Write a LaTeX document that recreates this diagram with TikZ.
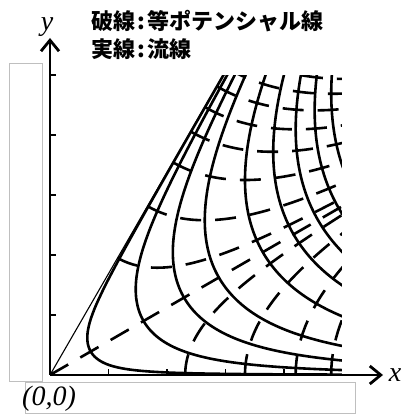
\documentclass[tikz,border=0pt]{standalone}
\usepackage{fontspec}
\setmainfont{Liberation Serif}
\newfontfamily\jpfont{Noto Sans CJK JP}
\usetikzlibrary{arrows.meta}

\begin{document}
\begin{tikzpicture}[x=1pt,y=1pt,
  axis/.style={line width=2.8pt,-{Straight Barb[length=11pt,width=18pt,line width=2.8pt]}},
  stream/.style={line width=2.6pt},
  equip/.style={line width=2.6pt,dash pattern=on 21pt off 14pt},
  wall/.style={line width=1.1pt},
  tickmark/.style={line width=1.6pt},
  textbox/.style={draw=black!25,line width=0.8pt},
  legend/.style={anchor=base west,font=\jpfont\bfseries\fontsize{22}{26}\selectfont},
  axlabel/.style={anchor=base,font=\itshape\fontsize{28}{30}\selectfont}]
  \useasboundingbox (0,0) rectangle (403,414);

  % empty text boxes
  \draw[textbox] (9,33) rectangle (42,351);
  \draw[textbox] (25,1) rectangle (355,32);

  % axes
  \coordinate (O) at (50,39);
  \coordinate (xend) at (383,39);
  \coordinate (yend) at (50,376);
  \draw[axis] (O) -- (xend);
  \draw[axis] (O) -- (yend);
  \foreach \k in {1,...,5}
    \draw[tickmark] ([yshift=60*\k]O) -- ++(6,0);
  \foreach \k in {1,...,4}
    \draw[tickmark] ([xshift=58.5*\k]O) -- ++(0,6);

  % flow W = z^3, unit 195pt
  \begin{scope}[shift={(O)},x=195pt,y=195pt]
    \clip (0,0) rectangle (1.497,1.538);
    \draw[wall] (0,0) -- (60:2.2);
    % streamlines
    \foreach \c in {0.014,0.17,0.5,1,2,3,4,5,6}{
      \pgfmathsetmacro{\ylo}{\c/7.68}
      \pgfmathsetmacro{\q}{ln(1.6/\ylo)}
      \draw[stream] plot[domain=0:1,samples=160,variable=\t]
        ({sqrt((\c+(\ylo*exp(\q*\t))^3)/(3*\ylo*exp(\q*\t)))},{\ylo*exp(\q*\t)});
    }
    % equipotential lines
    \draw[equip] (0,0) -- (30:2.3);
    \foreach \c in {0.333,1,2,3}{
      \pgfmathsetmacro{\tmax}{acos(\c/12)/3}
      \draw[equip] plot[domain=0:\tmax,samples=120]
        ({(\c/cos(3*\x))^(1/3)*cos(\x)},{(\c/cos(3*\x))^(1/3)*sin(\x)});
    }
    \foreach \c in {-0.333,-1,-2,-3,-4,-5,-6,-7}{
      \pgfmathsetmacro{\tmin}{acos(\c/12)/3}
      \draw[equip] plot[domain=60:\tmin,samples=120]
        ({(\c/cos(3*\x))^(1/3)*cos(\x)},{(\c/cos(3*\x))^(1/3)*sin(\x)});
    }
  \end{scope}

  % labels
  \node[axlabel] (ylab) at (47,383) {y};
  \node[axlabel] (xlab) at (395,32) {x};
  \node[axlabel] (olab) at (49,9) {(0,0)};
  \node[legend] (leg1) at (88,384) {破線\makebox[12pt]{:}等ポテンシャル線};
  \node[legend] (leg2) at (88,356) {実線\makebox[12pt]{:}流線};
\end{tikzpicture}
\end{document}
